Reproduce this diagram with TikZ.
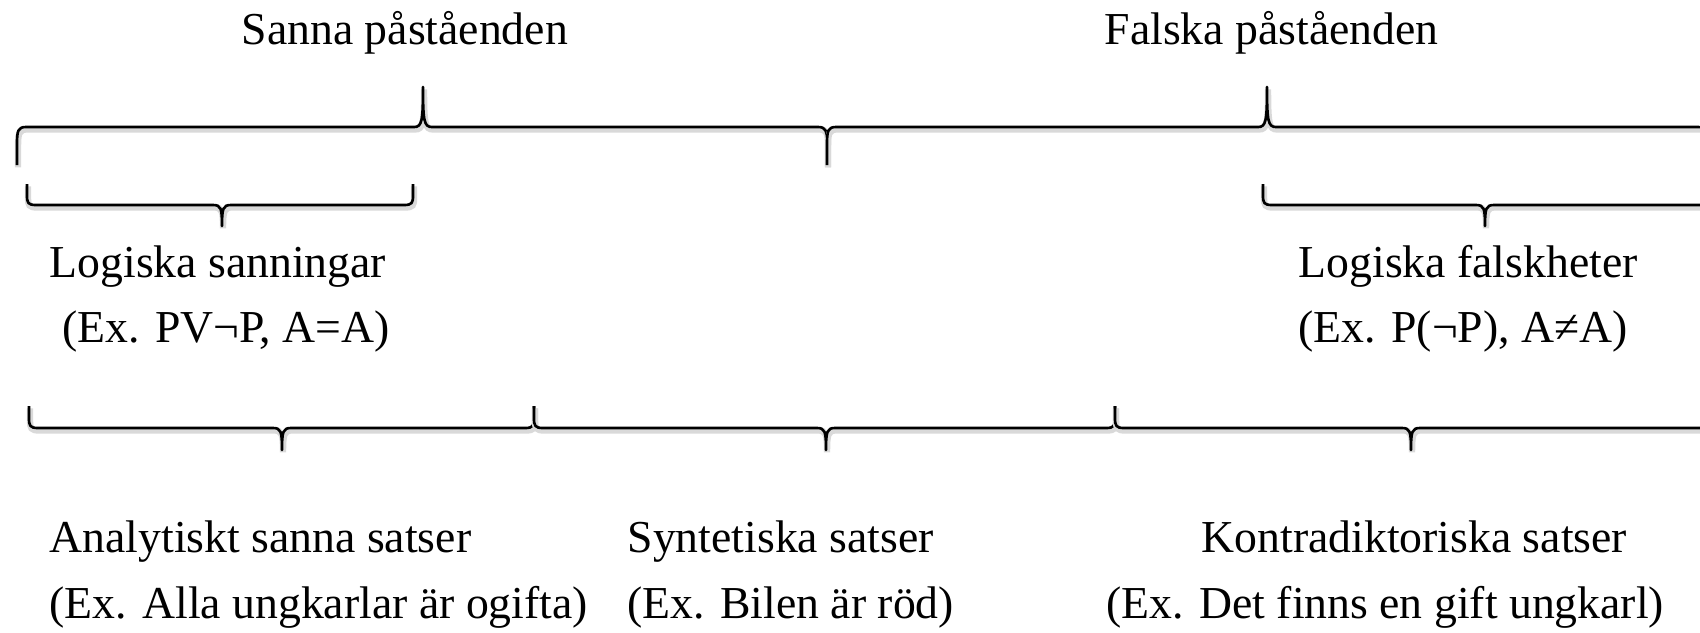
\documentclass[tikz,border=0pt]{standalone}
\usepackage{fontspec}
\setmainfont{Liberation Serif}
\tikzset{
  etikett/.style={anchor=base west, inner sep=0pt, font=\fontsize{13}{15}\selectfont},
  klamra/.style={line width=0.75pt, line join=round,
    preaction={draw=black!15, line width=1.8pt, transform canvas={xshift=0.3pt, yshift=-0.7pt}}}
}
% klammer: x-start, x-spets, x-slut, y-ändar, y-linje, y-spets
\newcommand{\klammer}[6]{%
  \draw[klamra] (#1,#4) -- (#1,{#5+0.45*(#4-#5)})
    .. controls (#1,{#5+0.1*(#4-#5)}) and ({#1+1},#5) .. ({#1+9},#5)
    -- ({#2-9},#5) .. controls ({#2-1},#5) and (#2,{#5+0.15*(#6-#5)}) .. (#2,#6)
    .. controls (#2,{#5+0.15*(#6-#5)}) and ({#2+1},#5) .. ({#2+9},#5)
    -- ({#3-9},#5) .. controls ({#3-1},#5) and (#3,{#5+0.1*(#4-#5)}) .. (#3,{#5+0.45*(#4-#5)})
    -- (#3,#4);}
\begin{document}
\begin{tikzpicture}[x=0.01cm, y=-0.01cm]
      \useasboundingbox (0,0) rectangle (1700,632);
      \clip (0,0) rectangle (1700,632);
      \draw
        (241,44) node[etikett] (sanna){Sanna påståenden}
        (1104,44) node[etikett] (falska){Falska påståenden}
        (49,277) node[etikett] (logsann){Logiska sanningar}
        (62,342) node[etikett] (exsann){(Ex. PV¬P, A=A)}
        (1298,277) node[etikett] (logfalsk){Logiska falskheter}
        (1298,342) node[etikett] (exfalsk){(Ex. P(¬P), A≠A)}
        (49,552) node[etikett] (analyt){Analytiskt sanna satser}
        (49,618) node[etikett] (exanalyt){(Ex. Alla ungkarlar är ogifta)}
        (627,552) node[etikett] (syntet){Syntetiska satser}
        (627,618) node[etikett] (exsyntet){(Ex. Bilen är röd)}
        (1201,552) node[etikett] (kontra){Kontradiktoriska satser}
        (1106,618) node[etikett] (exkontra){(Ex. Det finns en gift ungkarl)};
      \begin{scope}
        \klammer{17}{423}{827}{165}{127}{87}
        \klammer{827}{1267}{1707}{165}{127}{87}
        \klammer{27}{222}{413}{184}{205}{226}
        \klammer{1263}{1485}{1707}{184}{205}{226}
        \klammer{29}{282}{534}{406}{428}{450}
        \klammer{534}{826}{1115}{406}{428}{450}
        \klammer{1115}{1411}{1707}{406}{428}{450}
      \end{scope}
    \end{tikzpicture}
\end{document}
